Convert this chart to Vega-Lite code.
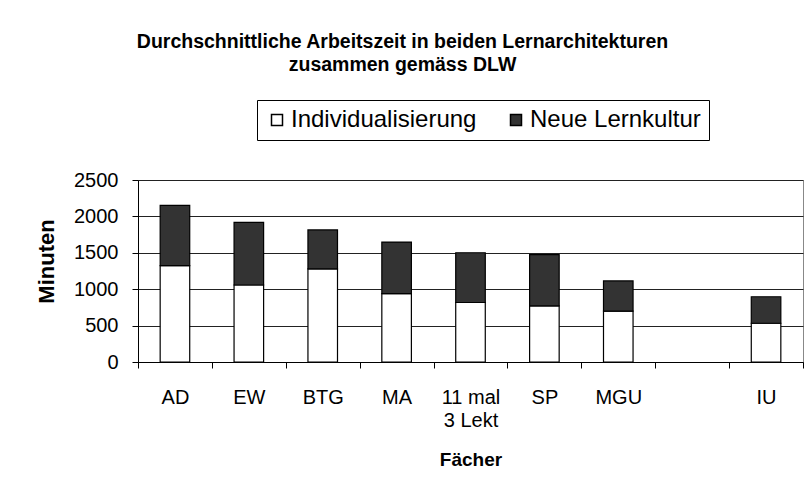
{
  "$schema": "https://vega.github.io/schema/vega-lite/v6.json",
  "width": 665,
  "height": 182,
  "autosize": {"type": "none"},
  "padding": {"left": 138, "top": 180, "right": 9, "bottom": 133},
  "background": "white",
  "config": {
    "font": "Liberation Sans",
    "view": {"stroke": "#888888", "strokeWidth": 1},
    "axis": {"labelFont": "Liberation Sans", "titleFont": "Liberation Sans", "labelColor": "black", "titleColor": "black", "domainColor": "black", "tickColor": "black"}
  },
  "title": {
    "text": ["Durchschnittliche Arbeitszeit in beiden Lernarchitekturen", "zusammen gemäss DLW"],
    "font": "Liberation Sans",
    "fontSize": 19.5,
    "fontWeight": "bold",
    "color": "black",
    "anchor": "middle",
    "dx": -68,
    "offset": 24,
    "lineHeight": 23
  },
  "data": {
    "values": [
      {"fach": "AD", "serie": "Individualisierung", "minuten": 1325},
      {"fach": "AD", "serie": "Neue Lernkultur", "minuten": 827},
      {"fach": "EW", "serie": "Individualisierung", "minuten": 1058},
      {"fach": "EW", "serie": "Neue Lernkultur", "minuten": 859},
      {"fach": "BTG", "serie": "Individualisierung", "minuten": 1280},
      {"fach": "BTG", "serie": "Neue Lernkultur", "minuten": 534},
      {"fach": "MA", "serie": "Individualisierung", "minuten": 938},
      {"fach": "MA", "serie": "Neue Lernkultur", "minuten": 710},
      {"fach": "11 mal 3 Lekt", "serie": "Individualisierung", "minuten": 817},
      {"fach": "11 mal 3 Lekt", "serie": "Neue Lernkultur", "minuten": 684},
      {"fach": "SP", "serie": "Individualisierung", "minuten": 771},
      {"fach": "SP", "serie": "Neue Lernkultur", "minuten": 703},
      {"fach": "MGU", "serie": "Individualisierung", "minuten": 698},
      {"fach": "MGU", "serie": "Neue Lernkultur", "minuten": 415},
      {"fach": "IU", "serie": "Individualisierung", "minuten": 532},
      {"fach": "IU", "serie": "Neue Lernkultur", "minuten": 364}
    ]
  },
  "mark": {"type": "bar", "stroke": "black", "strokeWidth": 1.2, "width": {"band": 0.4}},
  "encoding": {
    "x": {
      "field": "fach",
      "type": "nominal",
      "scale": {"domain": ["AD", "EW", "BTG", "MA", "11 mal 3 Lekt", "SP", "MGU", " ", "IU"], "paddingInner": 0, "paddingOuter": 0},
      "axis": {
        "title": "Fächer",
        "titleFontSize": 19,
        "titleFontWeight": "bold",
        "titlePadding": 20,
        "labelAngle": 0,
        "labelFontSize": 20,
        "labelPadding": 19,
        "labelLineHeight": 23,
        "labelExpr": "datum.value == '11 mal 3 Lekt' ? ['11 mal', '3 Lekt'] : datum.value",
        "tickBand": "extent",
        "tickSize": 6,
        "grid": false
      }
    },
    "y": {
      "field": "minuten",
      "type": "quantitative",
      "aggregate": "sum",
      "stack": "zero",
      "scale": {"domain": [0, 2500], "nice": false},
      "axis": {
        "title": "Minuten",
        "titleFontSize": 22,
        "titleFontWeight": "bold",
        "titleX": -80,
        "titleY": 81,
        "values": [0, 500, 1000, 1500, 2000, 2500],
        "format": "d",
        "labelFontSize": 20,
        "labelPadding": 14,
        "tickSize": 6,
        "grid": true,
        "gridColor": "#222222",
        "gridWidth": 1
      }
    },
    "fill": {
      "field": "serie",
      "type": "nominal",
      "scale": {"domain": ["Individualisierung", "Neue Lernkultur"], "range": ["#ffffff", "#333333"]},
      "legend": {
        "title": null,
        "orient": "none",
        "legendX": 119,
        "legendY": -80,
        "direction": "horizontal",
        "symbolType": "square",
        "symbolSize": 121,
        "labelFontSize": 24,
        "labelFont": "Liberation Sans",
        "labelColor": "black",
        "labelLimit": 400,
        "columnPadding": 27,
        "labelOffset": 2,
        "padding": 8,
        "strokeColor": "black",
        "fillColor": "white",
        "encode": {"symbols": {"update": {"stroke": {"value": "black"}, "strokeWidth": {"value": 1}}}}
      }
    },
    "order": {"field": "serie", "sort": "ascending"}
  }
}
